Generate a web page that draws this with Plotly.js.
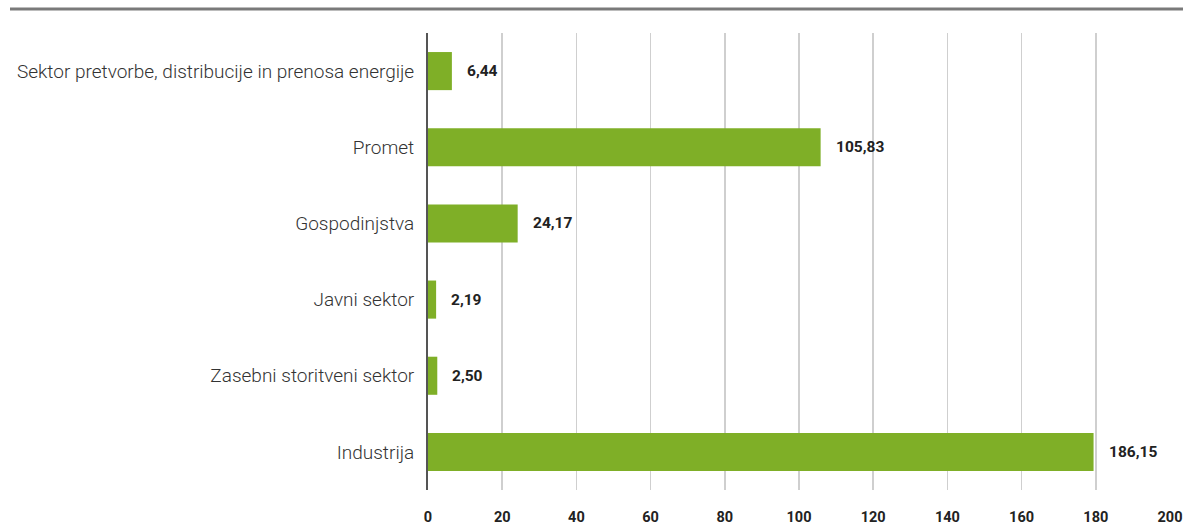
<!DOCTYPE html>
<html>
<head>
<meta charset="utf-8">
<script src="https://cdn.plot.ly/plotly-3.0.1.min.js"></script>
<style>html,body{margin:0;padding:0;background:#fff;}#chart{width:1183px;height:525px;}</style>
</head>
<body>
<div id="chart"></div>
<script>
// Categories (top to bottom)
const categories = [
  "Sektor pretvorbe, distribucije in prenosa energije",
  "Promet",
  "Gospodinjstva",
  "Javni sektor",
  "Zasebni storitveni sektor",
  "Industrija"
];
// Values as printed on the labels
const values = [6.44, 105.83, 24.17, 2.19, 2.50, 186.15];
// Bar lengths as drawn in the picture (Industrija bar is drawn shorter than its label)
const barLengths = [6.44, 105.83, 24.17, 2.19, 2.50, 179.4];
const xTicks = [0, 20, 40, 60, 80, 100, 120, 140, 160, 180, 200];

const fmt = v => v.toFixed(2).replace('.', ',');

const trace = {
  type: 'bar',
  orientation: 'h',
  y: categories,
  x: barLengths,
  marker: {color: '#7FAF27'},
  hoverinfo: 'none'
};

const annotations = categories.map((c, i) => ({
  x: barLengths[i], y: c, xref: 'x', yref: 'y',
  text: '<b>' + fmt(values[i]) + '</b>',
  showarrow: false, xanchor: 'left', xshift: 13,
  font: {family: 'Roboto', size: 15.5, color: '#222'}
}));

const L = 428, R = 13, T = 33, B = 35, W = 1183, H = 525;
const pw = W - L - R, ph = H - T - B;

const layout = {
  width: W, height: H,
  margin: {l: L, r: R, t: T, b: B, pad: 0},
  paper_bgcolor: '#fff', plot_bgcolor: '#fff',
  showlegend: false,
  bargap: 0.5,
  xaxis: {
    range: [0, 200],
    tickvals: xTicks,
    ticktext: xTicks.map(v => '<b>' + v + '</b>'),
    showgrid: true, gridcolor: '#cfcfcf', gridwidth: 1.5,
    zeroline: false, showline: false,
    ticks: '', ticklabelstandoff: 16,
    tickfont: {family: 'Roboto', size: 14.5, color: '#222'},
    fixedrange: true
  },
  yaxis: {
    categoryorder: 'array', categoryarray: categories.slice().reverse(),
    showline: true, linecolor: '#555', linewidth: 2,
    showgrid: false, zeroline: false,
    ticks: '', ticklabelstandoff: 8,
    tickfont: {family: 'Roboto', size: 19, color: '#333', weight: 300},
    fixedrange: true
  },
  shapes: [{
    type: 'line', xref: 'paper', yref: 'paper',
    x0: (10 - L) / pw, x1: (W - L) / pw,
    y0: (H - B - 9) / ph, y1: (H - B - 9) / ph,
    line: {color: '#7a7a7a', width: 3}
  }],
  annotations: annotations
};

Plotly.newPlot('chart', [trace], layout, {displayModeBar: false, staticPlot: true});
</script>
</body>
</html>
